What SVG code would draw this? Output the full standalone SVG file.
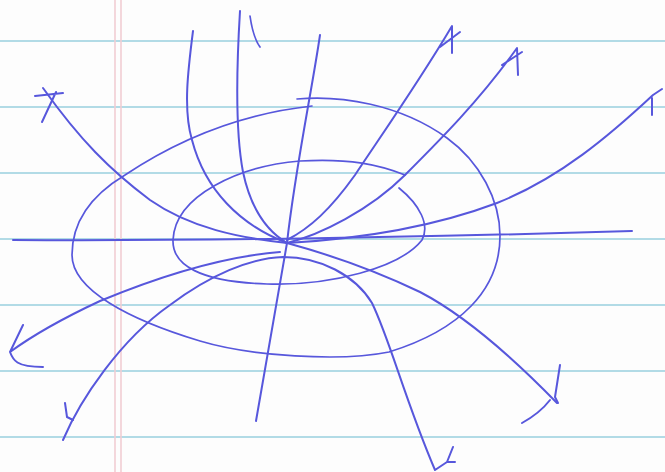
<svg xmlns="http://www.w3.org/2000/svg" width="665" height="472" viewBox="0 0 665 472">
<style>
.rule{stroke:#b2dbe6;stroke-width:2;fill:none}
.margin{stroke:#f1cdd3;stroke-width:1.6;fill:none}
.pen{stroke:#5757dc;stroke-width:2;fill:none;stroke-linecap:round;stroke-linejoin:round}
.thin{stroke-width:1.7}
</style>
<rect width="665" height="472" fill="#fdfdfd"/>
<g id="paper">
<line class="rule" x1="0" y1="41" x2="665" y2="41"/>
<line class="rule" x1="0" y1="107" x2="665" y2="107"/>
<line class="rule" x1="0" y1="173" x2="665" y2="173"/>
<line class="rule" x1="0" y1="239" x2="665" y2="239"/>
<line class="rule" x1="0" y1="305" x2="665" y2="305"/>
<line class="rule" x1="0" y1="371" x2="665" y2="371"/>
<line class="rule" x1="0" y1="437" x2="665" y2="437"/>
<line class="margin" x1="115" y1="0" x2="115" y2="472"/>
<line class="margin" x1="121" y1="0" x2="121" y2="472"/>
</g>
<g id="ellipses">
<path class="pen thin" d="M297,99 C340,95 400,104 447,138 C480,162 500,200 500,236 C500,290 460,330 389,352 C340,362 250,356 200,341 C130,320 72,290 72,255 C72,215 100,190 125,175 C170,145 230,115 312,106"/>
<path class="pen thin" d="M405,175 C380,165 350,158 300,161 C240,166 175,195 173,240 C172,265 200,282 267,284 C330,286 400,268 422,240 C430,225 420,205 399,188"/>
</g>
<g id="connectors">
<path class="pen" d="M13,240 C200,241 400,238 632,231"/>
<path class="pen" d="M43,88 C80,140 110,170 150,200 C190,228 240,238 287,243 C320,252 370,268 420,292 C470,318 520,365 557,403"/>
<path class="pen" d="M35,96 L63,93 M56,92 L42,122"/>
<path class="pen" d="M560,365 L555,397 L558,403 M522,423 Q540,413 550,400"/>
<path class="pen" d="M193,31 C188,70 183,110 192,140 C205,190 240,225 287,243"/>
<path class="pen" d="M240,11 C237,60 235,130 243,172 C250,205 265,230 287,243"/>
<path class="pen thin" d="M250,16 C252,30 255,40 260,47"/>
<path class="pen" d="M320,35 C312,90 295,170 287,243"/>
<path class="pen" d="M287,240 C310,228 330,210 355,175 C385,130 420,80 452,26 L452,53 M440,47 L460,32"/>
<path class="pen" d="M287,243 C320,235 370,210 405,175 C440,140 480,100 517,48 L518,75 M502,65 L522,52"/>
<path class="pen" d="M287,243 C340,240 420,232 497,203 C560,178 610,135 653,95 L662,89 M652,98 L652,115"/>
<path class="pen" d="M280,252 C230,256 170,272 100,301 C70,315 40,330 10,352 L23,325 M10,352 C13,360 16,367 43,367"/>
<path class="pen" d="M63,440 C80,400 120,340 170,305 C210,275 250,258 283,257 C320,257 355,275 372,303 C390,340 405,400 435,470 L447,462 L453,447 M448,462 L455,462"/>
<path class="pen" d="M65,403 L67,417 L73,420"/>
<path class="pen" d="M287,243 L256,421"/>
</g>
</svg>
